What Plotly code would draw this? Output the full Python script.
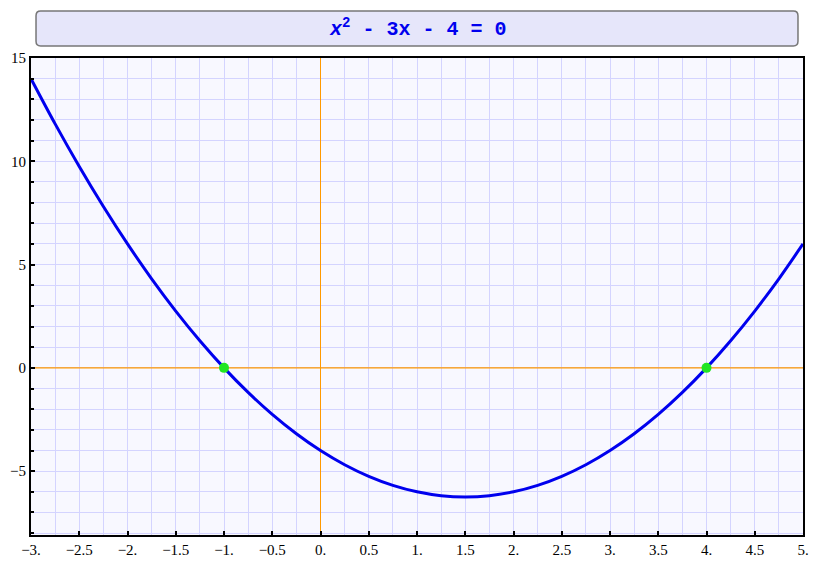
import plotly.graph_objects as go

# Curve samples
x_vals = [-3, -2.75, -2.5, -2.25, -2, -1.75, -1.5, -1.25, -1, -0.75, -0.5, -0.25,
          0, 0.25, 0.5, 0.75, 1, 1.25, 1.5, 1.75, 2, 2.25, 2.5, 2.75, 3, 3.25,
          3.5, 3.75, 4, 4.25, 4.5, 4.75, 5]
y_vals = [14, 11.8125, 9.75, 7.8125, 6, 4.3125, 2.75, 1.3125, 0, -1.1875, -2.25, -3.1875,
          -4, -4.6875, -5.25, -5.6875, -6, -6.1875, -6.25, -6.1875, -6, -5.6875, -5.25,
          -4.6875, -4, -3.1875, -2.25, -1.1875, 0, 1.3125, 2.75, 4.3125, 6]
root_x = [-1, 4]
root_y = [0, 0]

x_range = [-3, 5]
y_range = [-8.09, 15]

x_tickvals = [-3, -2.5, -2, -1.5, -1, -0.5, 0, 0.5, 1, 1.5, 2, 2.5, 3, 3.5, 4, 4.5, 5]
x_ticktext = ["\u22123.", "\u22122.5", "\u22122.", "\u22121.5", "\u22121.", "\u22120.5", "0.",
              "0.5", "1.", "1.5", "2.", "2.5", "3.", "3.5", "4.", "4.5", "5."]
y_tickvals = [-5, 0, 5, 10, 15]
y_ticktext = ["\u22125", "0", "5", "10", "15"]
title_text = "<i>x</i><sup>2</sup> - 3x - 4 = 0"

fig = go.Figure()
# orange axes through the origin, beneath the curve and points
fig.add_trace(go.Scatter(x=x_range, y=[0, 0], mode="lines",
                         line=dict(color="#ff9900", width=1.2),
                         hoverinfo="skip", showlegend=False))
fig.add_trace(go.Scatter(x=[0, 0], y=y_range, mode="lines",
                         line=dict(color="#ff9900", width=1),
                         hoverinfo="skip", showlegend=False))
fig.add_trace(go.Scatter(x=x_vals, y=y_vals, mode="lines",
                         line=dict(color="#0000ee", width=3, shape="spline"),
                         hoverinfo="skip", showlegend=False))
fig.add_trace(go.Scatter(x=root_x, y=root_y, mode="markers",
                         marker=dict(color="#22e622", size=10),
                         showlegend=False))

grid_c = "#d4d4ff"
tick_font = dict(family="Liberation Serif", size=15, color="black")

fig.update_xaxes(range=x_range, tickvals=x_tickvals, ticktext=x_ticktext,
                 ticks="inside", ticklen=4, tickwidth=2, tickcolor="black",
                 showline=True, linecolor="black", linewidth=2, mirror=True,
                 showgrid=True, gridcolor=grid_c, gridwidth=1,
                 zeroline=False, automargin=False,
                 minor=dict(dtick=0.25, tick0=0, showgrid=True, gridcolor=grid_c,
                            ticklen=0),
                 tickfont=tick_font)
fig.update_yaxes(range=y_range, tickvals=y_tickvals, ticktext=y_ticktext,
                 ticks="inside", ticklen=4, tickwidth=2, tickcolor="black",
                 showline=True, linecolor="black", linewidth=2, mirror=True,
                 showgrid=True, gridcolor=grid_c, gridwidth=1,
                 zeroline=False, automargin=False,
                 minor=dict(dtick=1, tick0=0, showgrid=True, gridcolor=grid_c,
                            ticks="inside", ticklen=3, tickcolor="black"),
                 tickfont=tick_font)

# rounded title box
x0, x1, y0, y1, r = 0.0065, 0.9935, 1.0252, 1.0985, 0.006
ry = r * 772 / 477
path = (f"M {x0+r},{y0} L {x1-r},{y0} Q {x1},{y0} {x1},{y0+ry} "
        f"L {x1},{y1-ry} Q {x1},{y1} {x1-r},{y1} L {x0+r},{y1} "
        f"Q {x0},{y1} {x0},{y1-ry} L {x0},{y0+ry} Q {x0},{y0} {x0+r},{y0} Z")
fig.add_shape(type="path", path=path, xref="paper", yref="paper",
              fillcolor="#e6e6fa", line=dict(color="#777777", width=1.5))
fig.add_annotation(text=title_text, xref="paper", yref="paper", x=0.5, y=1.062,
                   showarrow=False, xanchor="center", yanchor="middle",
                   font=dict(family="Liberation Mono", size=20, color="#0000ee",
                             weight="bold"))

fig.update_layout(width=812, height=559,
                  margin=dict(l=23, r=17, t=50, b=32),
                  paper_bgcolor="white", plot_bgcolor="#f8f8ff",
                  showlegend=False)

fig.write_html("out.html")
